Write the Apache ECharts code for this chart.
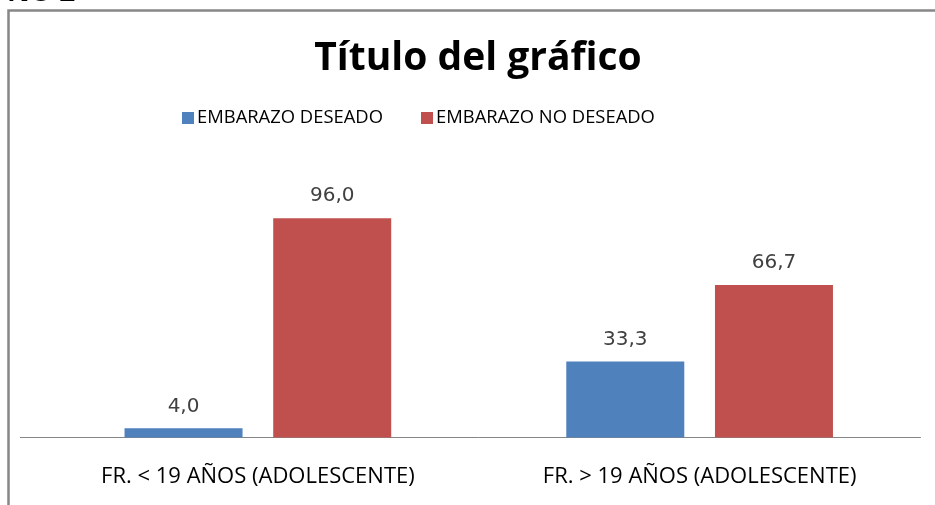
<!DOCTYPE html>
<html>
<head>
<meta charset="utf-8">
<script src="https://cdn.jsdelivr.net/npm/echarts@6/dist/echarts.min.js"></script>
<style>
html,body{margin:0;padding:0;background:#fff;}
#c{width:935px;height:505px;}
</style>
</head>
<body>
<div id="c"></div>
<script>
var categories = ['FR. < 19 AÑOS (ADOLESCENTE)', 'FR. > 19 AÑOS (ADOLESCENTE)'];
var seriesNames = ['EMBARAZO DESEADO', 'EMBARAZO NO DESEADO'];
var deseado = [4.0, 33.3];
var noDeseado = [96.0, 66.7];
var titleText = 'Título del gráfico';

var chart = echarts.init(document.getElementById('c'), null, {renderer: 'canvas'});
var labelCfg = {
  show: true,
  position: 'top',
  distance: 12,
  fontFamily: 'DejaVu Sans',
  fontSize: 20,
  color: '#404040',
  formatter: function (p) { return p.value.toFixed(1).replace('.', ','); }
};
chart.setOption({
  backgroundColor: '#ffffff',
  animation: false,
  title: {
    text: titleText,
    left: 473,
    textAlign: 'center',
    top: 34,
    textStyle: {fontFamily: 'Open Sans', fontWeight: 'bold', fontSize: 39, color: '#000'}
  },
  legend: {
    data: seriesNames,
    left: 177,
    top: 104,
    itemWidth: 12,
    itemHeight: 12,
    itemGap: 38,
    icon: 'rect',
    textStyle: {fontFamily: 'Open Sans', fontSize: 18.4, color: '#000', padding: [0, 0, 0, -2]}
  },
  grid: {left: 37, right: 14.5, top: 209, bottom: 67.5},
  xAxis: {
    type: 'category',
    data: categories,
    axisLine: {lineStyle: {color: '#868686', width: 1}},
    axisTick: {show: false},
    axisLabel: {margin: 28, fontFamily: 'Open Sans', fontSize: 22, color: '#000'}
  },
  yAxis: {
    type: 'value',
    min: 0,
    max: 100,
    show: false,
    splitLine: {show: false}
  },
  series: [
    {name: seriesNames[0], type: 'bar', data: deseado, barWidth: 118, barGap: '26%',
     itemStyle: {color: '#4f81bd'}, label: labelCfg},
    {name: seriesNames[1], type: 'bar', data: noDeseado, barWidth: 118,
     itemStyle: {color: '#c0504d'}, label: labelCfg}
  ],
  graphic: [
    {type: 'rect', shape: {x: 8.5, y: 10.5, width: 1000, height: 1000},
     style: {fill: null, stroke: '#878787', lineWidth: 2.5}, z: 100},
    {type: 'line', shape: {x1: 20, y1: 437.5, x2: 38, y2: 437.5},
     style: {stroke: '#868686', lineWidth: 1}},
    {type: 'text', z: 100,
     style: {x: 7, y: 7.5, text: 'NO 2', verticalAlign: 'bottom', font: 'bold 28px "Open Sans"', fill: '#000'}}
  ]
});
</script>
</body>
</html>
